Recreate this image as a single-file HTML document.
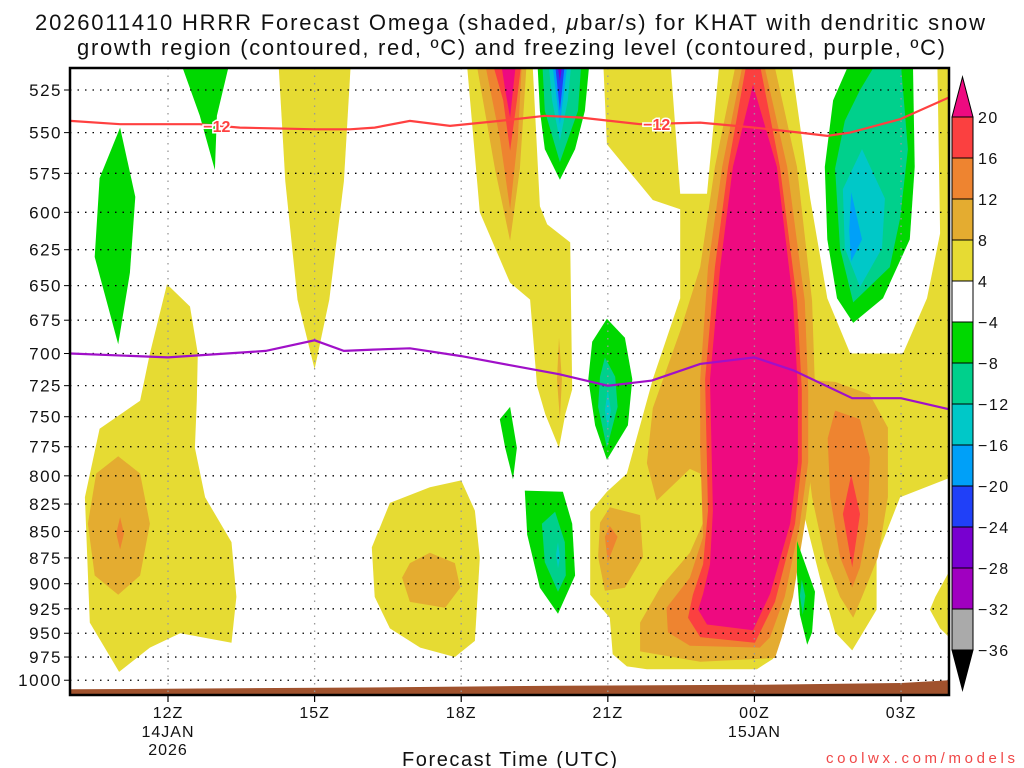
<!DOCTYPE html>
<html><head><meta charset="utf-8"><style>
body{margin:0;background:#fff;width:1024px;height:768px;overflow:hidden}
svg{display:block;font-family:"Liberation Sans",sans-serif}
</style></head><body>
<svg id="chart" width="1024" height="768" viewBox="0 0 1024 768" xmlns="http://www.w3.org/2000/svg">
<text x="35" y="30" font-size="22" textLength="950" lengthAdjust="spacing" fill="#111">2026011410 HRRR Forecast Omega (shaded, <tspan font-style="italic">μ</tspan>bar/s) for KHAT with dendritic snow</text>
<text x="77" y="55" font-size="22" textLength="868" lengthAdjust="spacing" fill="#111">growth region (contoured, red, ºC) and freezing level (contoured, purple, ºC)</text>
<defs><clipPath id="pc"><rect x="70" y="68" width="879" height="627"/></clipPath></defs>
<g id="fills" clip-path="url(#pc)"></g>
<g id="grid"></g>
<g id="lines" clip-path="url(#pc)"></g>
<rect x="70" y="68" width="879" height="627" fill="none" stroke="#000" stroke-width="2.5"/>
<g id="axes"></g>
<g id="cbar"></g>
<text x="402" y="766" font-size="20" textLength="215" lengthAdjust="spacing" fill="#111">Forecast Time (UTC)</text>
<text x="826" y="763" font-size="15" textLength="189" lengthAdjust="spacing" fill="#f04848">coolwx.com/models</text>
</svg>
<script>
const pressureTicks=[525,550,575,600,625,650,675,700,725,750,775,800,825,850,875,900,925,950,975,1000];
const timeTicks=[12,15,18,21,24,27];
const timeLabels=["12Z","15Z","18Z","21Z","00Z","03Z"];
const dateLabels={12:["14JAN","2026"],24:["15JAN"]};
const levels=[20,16,12,8,4,-4,-8,-12,-16,-20,-24,-28,-32,-36];
const colors={yellow:"#e6db33",gold:"#e4ac30",orange:"#ee8430",red:"#fb4040",magenta:"#ee0a80",green:"#00d800",teal:"#00d08c",cyan:"#00c8c8",blue:"#00a0f8",dkblue:"#2040f8",purple:"#7800d0",violet:"#a000c0",gray:"#aaaaaa"};
const cbarColors=["#ee0a80","#fb4040","#ee8430","#e4ac30","#e6db33","#ffffff","#00d800","#00d08c","#00c8c8","#00a0f8","#2040f8","#7800d0","#a000c0","#aaaaaa","#000000"];
const yellowAreas=[
[[11.98,649],[12.45,665],[12.61,700],[12.59,737],[12.55,776],[12.76,819],[13.3,860],[13.4,913],[13.3,960],[12.25,950],[11.63,965],[11.0,991],[10.4,939],[10.3,819],[10.6,760],[11.43,737],[11.63,700]],
[[14.25,505],[15.75,505],[15.6,580],[15.3,660],[15.0,712],[14.65,660],[14.4,580]],
[[16.17,865],[16.54,824],[17.36,810],[18.0,804],[18.28,831],[18.38,875],[18.28,958],[17.87,975],[17.16,965],[16.54,945],[16.23,913]],
[[18.1,505],[19.45,505],[19.61,596],[19.76,608],[20.23,620],[20.27,728],[20.13,748],[20.0,776],[19.72,748],[19.55,725],[19.41,660],[19.0,648],[18.38,600]],
[[20.9,505],[22.27,505],[22.48,588],[23.03,588],[23.3,505],[24.73,505],[25.14,591],[25.49,659],[25.96,700],[27.04,700],[27.53,659],[27.8,614],[27.74,505],[28.1,505],[28.1,800],[26.98,819],[26.5,874],[26.5,926],[26.0,968],[25.65,949],[25.34,894],[24.99,830],[24.79,880],[24.58,926],[24.38,977],[24.05,988],[21.8,988],[21.39,985],[21.1,972],[21.04,934],[20.64,911],[20.64,832],[20.98,814],[21.39,798],[21.92,720],[22.48,659],[22.48,598],[21.92,592],[20.98,557]],
[[28.1,878],[27.7,913],[27.59,926],[27.8,945],[28.1,960]]
];
const goldAreas=[
[[23.66,505],[24.36,505],[24.87,571],[25.18,661],[25.24,728],[25.18,794],[25.03,843],[24.79,913],[24.56,954],[24.42,976],[22.89,980],[21.66,969],[21.66,939],[22.07,904],[22.68,870],[22.99,838],[23.09,802],[22.68,794],[22.0,822],[21.8,789],[21.92,743],[22.48,683],[22.89,637],[23.19,571]],
[[24.93,720],[25.65,722],[26.36,732],[26.73,759],[26.73,819],[26.53,874],[26.2,913],[26.02,934],[25.75,913],[25.44,874],[25.18,819],[25.03,768]],
[[21.04,828],[21.66,835],[21.72,874],[21.35,904],[20.94,907],[20.8,874],[20.84,842]],
[[20.0,688],[20.06,720],[20.02,752],[19.96,720]],
[[18.28,505],[19.35,505],[19.2,572],[19.0,619],[18.69,572]],
[[10.98,783],[11.43,798],[11.63,843],[11.43,892],[10.98,911],[10.5,892],[10.36,843],[10.53,798]],
[[17.36,870],[17.87,880],[17.98,904],[17.67,924],[16.95,918],[16.79,894],[16.95,880]]
];
const orangeAreas=[
[[23.8,505],[24.15,505],[24.67,571],[25.03,661],[25.1,728],[25.1,788],[24.93,843],[24.62,913],[24.32,954],[24.11,965],[22.68,963],[22.23,949],[22.2,924],[22.68,894],[22.95,855],[22.89,776],[22.89,720],[23.05,637],[23.34,571]],
[[25.65,745],[26.16,752],[26.36,784],[26.32,843],[26.16,884],[26.0,904],[25.75,874],[25.55,819],[25.5,768]],
[[21.04,845],[21.2,855],[21.0,879],[20.94,855]],
[[18.45,505],[19.25,505],[19.16,553],[19.0,598],[18.79,553]],
[[11.02,837],[11.1,852],[11.02,867],[10.94,852]]
];
const redAreas=[
[[23.87,505],[24.07,505],[24.52,571],[24.87,661],[24.97,728],[24.97,788],[24.83,843],[24.42,918],[24.01,960],[22.89,954],[22.64,934],[22.74,911],[22.95,881],[23.05,831],[22.99,720],[23.19,637],[23.46,571]],
[[25.98,799],[26.16,834],[26.0,884],[25.81,834]],
[[18.59,505],[19.25,505],[19.14,531],[19.0,561],[18.86,531]]
];
const magentaAreas=[
[[23.97,522],[24.46,571],[24.79,661],[24.89,728],[24.89,788],[24.73,843],[24.32,910],[23.97,947],[23.03,941],[22.85,926],[22.95,910],[23.09,881],[23.15,831],[23.09,720],[23.3,637],[23.56,571]],
[[18.79,505],[19.14,505],[19.06,525],[19.0,541],[18.9,525]]
];
const greenAreas=[
[[11.02,547],[11.33,590],[11.22,641],[10.98,693],[10.5,630],[10.6,578]],
[[12.2,505],[13.3,505],[13.0,540],[12.96,573],[12.65,540]],
[[19.0,742],[19.14,776],[19.06,803],[18.9,776],[18.79,752]],
[[19.3,813],[20.08,814],[20.27,843],[20.33,892],[19.98,930],[19.61,904],[19.35,853]],
[[20.98,674],[21.35,688],[21.5,720],[21.41,757],[20.98,786],[20.74,757],[20.6,720],[20.68,691]],
[[19.55,505],[20.64,505],[20.53,537],[20.33,560],[20.02,579],[19.71,560],[19.61,537]],
[[26.02,505],[27.24,505],[27.28,571],[27.18,618],[26.63,659],[26.02,677],[25.69,659],[25.49,618],[25.44,571],[25.61,531]],
[[24.87,859],[25.24,908],[25.18,949],[25.08,962],[24.93,931],[24.87,891]]
];
const tealAreas=[
[[19.92,832],[20.12,860],[20.14,892],[19.98,908],[19.71,879],[19.65,843]],
[[20.94,703],[21.15,718],[21.2,742],[20.98,776],[20.8,742],[20.84,718]],
[[19.65,505],[20.47,505],[20.39,537],[20.02,568],[19.71,537]],
[[26.6,505],[26.98,505],[27.14,560],[26.98,604],[26.77,637],[26.02,662],[25.75,624],[25.65,572],[25.85,543],[26.16,525]],
[[24.97,896],[25.04,912],[24.99,931],[24.93,912]]
];
const cyanAreas=[
[[19.98,860],[20.02,875],[19.98,885],[19.94,872]],
[[21.0,728],[21.06,745],[21.0,760],[20.94,745]],
[[19.77,505],[20.27,505],[20.18,531],[20.02,555],[19.86,531]],
[[26.2,560],[26.67,591],[26.61,624],[26.16,651],[25.85,624],[25.81,585]]
];
const blueAreas=[[[19.84,505],[20.2,505],[20.02,545]],[[25.98,587],[26.2,618],[25.98,633],[25.94,612]]];
const dkblueAreas=[[[19.9,505],[20.14,505],[20.02,537]]];
const purpleAreas=[[[19.94,505],[20.1,505],[20.02,520]]];
const dendriticLine=[[10,543],[11.02,545],[12.65,545],[13.47,547],[15,548],[15.72,548],[16.23,547],[16.95,543],[17.77,546],[18.79,543],[19.71,540],[20.43,541],[21.66,545],[22.89,544],[24,547],[24.93,550],[25.49,552],[25.96,550],[26.98,542],[28,529]];
const dendriticLabels=[[13.0,546],[22.0,545]];
const freezingLine=[[10,700],[12,703],[14,698],[15,690],[15.6,698],[16.2,697],[16.95,696],[18,702],[19,709],[20,716],[21,725],[21.9,721],[22.89,708],[24,703],[24.8,713],[26,735],[27,735],[28,744]];
const surfacePressure=[[10,1010],[13,1009],[16,1008],[20,1006],[24,1005],[27,1003],[28,1000]];

const NS="http://www.w3.org/2000/svg";
const X=h=>168+(h-12)*48.87;
const Y=p=>90+916*Math.log(p/525);
function mk(tag,attrs,parent){const e=document.createElementNS(NS,tag);for(const k in attrs)e.setAttribute(k,attrs[k]);parent.appendChild(e);return e;}
const fills=document.getElementById('fills');
function drawAreas(arr,col,name){
 arr.forEach((pts,i)=>{
  const d=pts.map((q,j)=>(j?'L':'M')+X(q[0]).toFixed(1)+','+Y(q[1]).toFixed(1)).join(' ')+'Z';
  const el=mk('path',{d:d,fill:col},fills);
  
  
 });
}
drawAreas(yellowAreas,colors.yellow,'omega-4to8');
drawAreas(goldAreas,colors.gold,'omega-8to12');
drawAreas(orangeAreas,colors.orange,'omega-12to16');
drawAreas(redAreas,colors.red,'omega-16to20');
drawAreas(magentaAreas,colors.magenta,'omega-above20');
drawAreas(greenAreas,colors.green,'omega-neg4to8');
drawAreas(tealAreas,colors.teal,'omega-neg8to12');
drawAreas(cyanAreas,colors.cyan,'omega-neg12to16');
drawAreas(blueAreas,colors.blue,'omega-neg16to20');
drawAreas(dkblueAreas,colors.dkblue,'omega-neg20to24');
drawAreas(purpleAreas,colors.purple,'omega-neg24to28');
{const top=surfacePressure.map(q=>X(q[0]).toFixed(1)+','+Y(q[1]).toFixed(1));
 const d='M'+top.join(' L')+' L'+X(28.2)+',700 L'+X(9.8)+',700 Z';
 const g=mk('path',{d:d,fill:'#a0522d'},fills);
 
 }
const grid=document.getElementById('grid');
pressureTicks.forEach(p=>{const l=mk('line',{x1:70,x2:949,y1:Y(p),y2:Y(p),stroke:'#000','stroke-width':1.3,'stroke-dasharray':'1.5 6'},grid);
 
 });
timeTicks.forEach(h=>{const l=mk('line',{x1:X(h),x2:X(h),y1:68,y2:695,stroke:'#999','stroke-width':1.3,'stroke-dasharray':'1.5 6'},grid);
 
 });
const lines=document.getElementById('lines');
const pl=a=>a.map(q=>X(q[0]).toFixed(1)+','+Y(q[1]).toFixed(1)).join(' ');
{const r=mk('polyline',{points:pl(dendriticLine),fill:'none',stroke:'#ff4040','stroke-width':2.2},lines);
 
 
 dendriticLabels.forEach(q=>{
  const t=mk('text',{x:X(q[0]),y:Y(q[1])+6,'font-size':16,'font-weight':'bold','text-anchor':'middle',fill:'#ff4040',stroke:'#fff','stroke-width':3,'paint-order':'stroke'},lines);
  t.textContent='−12';
  
  
 });
 const f=mk('polyline',{points:pl(freezingLine),fill:'none',stroke:'#a010c8','stroke-width':2.2},lines);
 
 }
const axes=document.getElementById('axes');
pressureTicks.forEach(p=>{
 const t=mk('text',{x:62,y:Y(p)+6,'font-size':17,'text-anchor':'end',fill:'#111','letter-spacing':'1.5'},axes);
 t.textContent=p;
 
 
 mk('line',{x1:64,x2:70,y1:Y(p),y2:Y(p),stroke:'#000','stroke-width':1},axes);
});
timeTicks.forEach((h,i)=>{
 mk('line',{x1:X(h),x2:X(h),y1:695,y2:702,stroke:'#000','stroke-width':1.2},axes);
 const t=mk('text',{x:X(h),y:718,'font-size':16,'text-anchor':'middle',fill:'#111','letter-spacing':'1'},axes);
 t.textContent=timeLabels[i];
 
 
 (dateLabels[h]||[]).forEach((s,j)=>{
  const d=mk('text',{x:X(h),y:737+j*18,'font-size':16,'text-anchor':'middle',fill:'#111','letter-spacing':'1'},axes);
  d.textContent=s;
  
  
 });
});
const cb=document.getElementById('cbar');
const cbY=i=>117+i*41;
const x0=952,x1=973,last=levels.length-1;
{const tri=mk('polygon',{points:`${x0},${cbY(0)} ${x1},${cbY(0)} ${(x0+x1)/2},${cbY(0)-40}`,fill:cbarColors[0],stroke:'#000','stroke-width':1},cb);
 
 }
for(let i=0;i<last;i++){
 const r=mk('rect',{x:x0,y:cbY(i),width:x1-x0,height:41,fill:cbarColors[i+1],stroke:'#000','stroke-width':1},cb);
 
 
}
{const tri=mk('polygon',{points:`${x0},${cbY(last)} ${x1},${cbY(last)} ${(x0+x1)/2},${cbY(last)+40}`,fill:'#000',stroke:'#000','stroke-width':1},cb);
 
 }
levels.forEach((v,i)=>{
 const t=mk('text',{x:978,y:cbY(i)+6,'font-size':16,fill:'#111','letter-spacing':'1.5'},cb);
 t.textContent=v<0?'−'+(-v):String(v);
 
 
});
</script>
</body></html>
